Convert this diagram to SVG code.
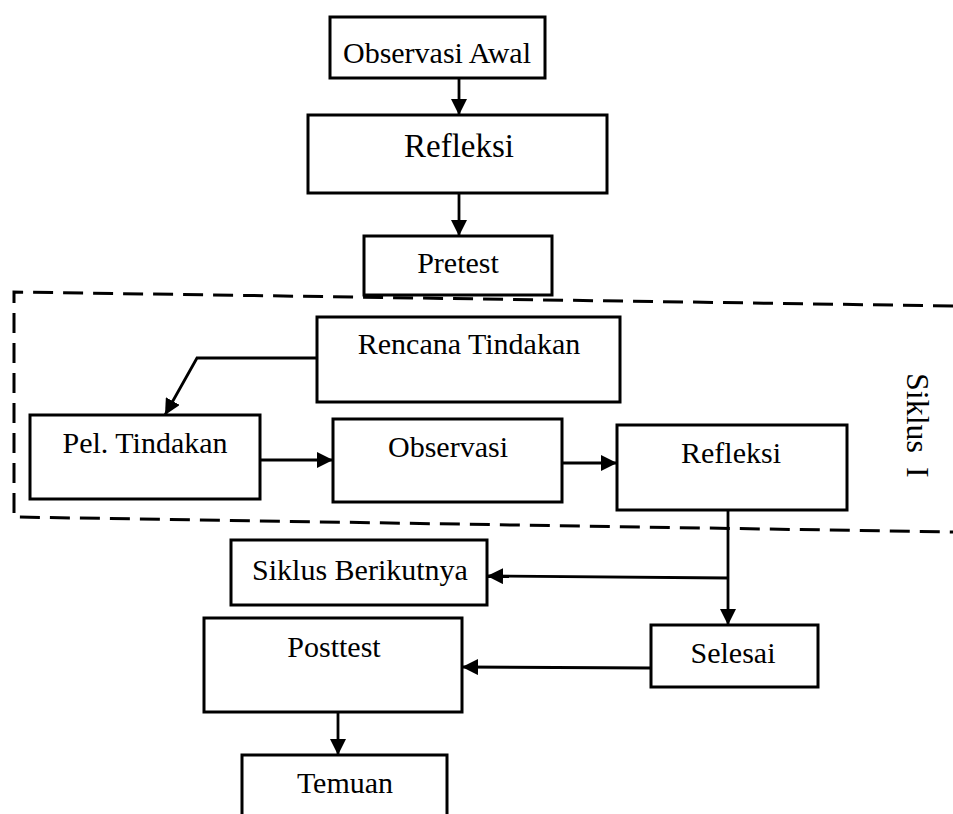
<svg xmlns="http://www.w3.org/2000/svg" width="953" height="814" viewBox="0 0 953 814">
<style>
.box{fill:#fff;stroke:#000;stroke-width:3}
.t{font-family:"Liberation Serif","Times New Roman",serif;font-size:30px;fill:#000;text-anchor:middle}
.c{fill:none;stroke:#000;stroke-width:2.8}
.dash{fill:none;stroke:#000;stroke-width:3;stroke-dasharray:20 10}
</style>
<defs>
<marker id="ah" markerUnits="userSpaceOnUse" markerWidth="17" markerHeight="16" refX="16" refY="8" orient="auto">
<path d="M0,0 L16,8 L0,16 z" fill="#000"/>
</marker>
</defs>
<rect width="953" height="814" fill="#fff"/>
<g id="siklus-frame">
<path class="dash" d="M953,306 L14,292 L14,517 L953,532"/>
<text class="t" style="font-size:32px;text-anchor:start" transform="translate(907,373) rotate(90)">Siklus<tspan dx="14">I</tspan></text>
</g>
<g id="connectors">
<path class="c" d="M459,78 L459,115" marker-end="url(#ah)"/>
<path class="c" d="M459,193 L459,236" marker-end="url(#ah)"/>
<path class="c" d="M317,358 L197,358 L165,415" marker-end="url(#ah)"/>
<path class="c" d="M260,460 L333,460" marker-end="url(#ah)"/>
<path class="c" d="M562,463 L617,463" marker-end="url(#ah)"/>
<path class="c" d="M728,510 L728,625" marker-end="url(#ah)"/>
<path class="c" d="M728,578 L487,576" marker-end="url(#ah)"/>
<path class="c" d="M651,668 L462,667" marker-end="url(#ah)"/>
<path class="c" d="M338,712 L338,755" marker-end="url(#ah)"/>
</g>
<g id="observasi-awal"><rect class="box" x="330" y="17" width="215" height="61"/><text class="t" x="437" y="63">Observasi Awal</text></g>
<g id="refleksi-awal"><rect class="box" x="308" y="115" width="299" height="78"/><text class="t" style="font-size:33px" x="459" y="157">Refleksi</text></g>
<g id="pretest"><rect class="box" x="364" y="236" width="188" height="59"/><text class="t" x="458" y="273">Pretest</text></g>
<g id="rencana-tindakan"><rect class="box" x="317" y="317" width="303" height="85"/><text class="t" x="469" y="354">Rencana Tindakan</text></g>
<g id="pel-tindakan"><rect class="box" x="30" y="415" width="230" height="84"/><text class="t" x="145" y="453">Pel. Tindakan</text></g>
<g id="observasi"><rect class="box" x="333" y="419" width="229" height="83"/><text class="t" x="448" y="457">Observasi</text></g>
<g id="refleksi"><rect class="box" x="617" y="425" width="230" height="85"/><text class="t" x="731" y="463">Refleksi</text></g>
<g id="siklus-berikutnya"><rect class="box" x="231" y="540" width="256" height="65"/><text class="t" x="360" y="580">Siklus Berikutnya</text></g>
<g id="selesai"><rect class="box" x="651" y="625" width="167" height="62"/><text class="t" x="733" y="663">Selesai</text></g>
<g id="posttest"><rect class="box" x="204" y="618" width="258" height="94"/><text class="t" x="334" y="657">Posttest</text></g>
<g id="temuan"><rect class="box" x="242" y="755" width="205" height="70"/><text class="t" x="345" y="793">Temuan</text></g>
</svg>
